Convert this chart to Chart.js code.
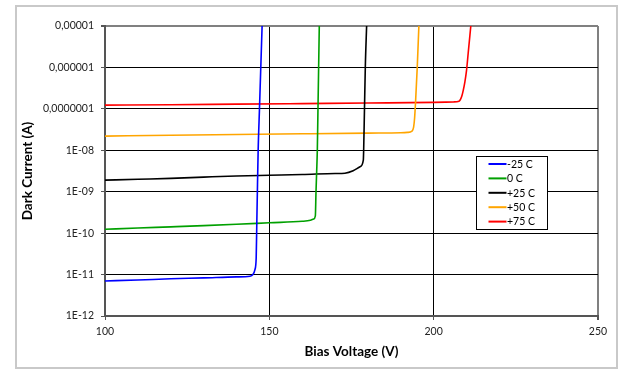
<!DOCTYPE html>
<html>
<head>
<meta charset="utf-8">
<script src="https://cdn.jsdelivr.net/npm/chart.js@4/dist/chart.umd.min.js"></script>
<style>
  html, body { margin: 0; padding: 0; background: #fff; }
  #wrap { width: 624px; height: 369px; position: relative; }
</style>
</head>
<body>
<div id="wrap"><canvas id="chart" width="624" height="369"></canvas></div>
<script>
// Dark current vs. bias voltage at five temperatures
const seriesLabels = ['-25 C', '0 C', '+25 C', '+50 C', '+75 C'];
const seriesColors = ['#0000ff', '#00a000', '#000000', '#ffa500', '#ff0000'];

const voltM25 = [100, 110, 120, 130, 140, 144.1, 145.0, 145.6, 146.0, 146.2, 146.4, 146.6, 147.0, 147.4, 147.8];
const currM25 = [7.0e-12, 7.4e-12, 7.9e-12, 8.3e-12, 8.8e-12, 9.1e-12, 1.0e-11, 1.3e-11, 2.5e-11, 2e-10, 1.5e-9, 1e-8, 1e-7, 1e-6, 1e-5];

const volt0 = [100, 110, 120, 130, 140, 150, 160, 162.5, 163.5, 164.0, 164.2, 164.4, 164.6, 164.8, 165.0, 165.2];
const curr0 = [1.24e-10, 1.33e-10, 1.42e-10, 1.52e-10, 1.64e-10, 1.78e-10, 1.93e-10, 2.05e-10, 2.2e-10, 2.6e-10, 1e-9, 3e-9, 1e-8, 1e-7, 1e-6, 1e-5];

const voltP25 = [100, 110, 120, 130, 140, 150, 160, 170, 173, 175.5, 177.6, 178.6, 178.7, 178.95, 179.2, 179.6];
const currP25 = [1.9e-9, 2.0e-9, 2.1e-9, 2.25e-9, 2.4e-9, 2.5e-9, 2.6e-9, 2.75e-9, 2.8e-9, 3.2e-9, 4.0e-9, 5.8e-9, 1e-8, 1e-7, 1e-6, 1e-5];

const voltP50 = [100, 120, 140, 160, 180, 190, 192, 193.4, 193.9, 194.2, 194.5, 195.0, 195.5];
const currP50 = [2.2e-8, 2.3e-8, 2.4e-8, 2.5e-8, 2.6e-8, 2.65e-8, 2.7e-8, 2.9e-8, 3.6e-8, 6e-8, 1.5e-7, 1e-6, 1e-5];

const voltP75 = [100, 120, 140, 160, 180, 200, 206, 207.7, 208.5, 209.0, 209.5, 210.0, 210.5, 211.3];
const currP75 = [1.23e-7, 1.26e-7, 1.3e-7, 1.34e-7, 1.38e-7, 1.43e-7, 1.47e-7, 1.52e-7, 1.95e-7, 2.8e-7, 4.5e-7, 8.5e-7, 2.2e-6, 1e-5];

const xTickValues = [100, 150, 200, 250];
const yTickValues = [1e-12, 1e-11, 1e-10, 1e-9, 1e-8, 1e-7, 1e-6, 1e-5];
const yTickLabels = ['1E-12', '1E-11', '1E-10', '1E-09', '1E-08', '0,0000001', '0,000001', '0,00001'];

const voltages = [voltM25, volt0, voltP25, voltP50, voltP75];
const currents = [currM25, curr0, currP25, currP50, currP75];

const FONT = 'Lato, "Open Sans", sans-serif';

const datasets = seriesLabels.map((label, i) => ({
  label,
  data: voltages[i].map((v, j) => ({ x: v, y: currents[i][j] })),
  borderColor: seriesColors[i],
  backgroundColor: seriesColors[i],
  borderWidth: 1.6,
  pointRadius: 0,
  cubicInterpolationMode: 'monotone',
  fill: false
}));

// light outer frame around the whole chart
const outerFrame = {
  id: 'outerFrame',
  afterDraw(chart) {
    const ctx = chart.ctx;
    ctx.save();
    ctx.strokeStyle = '#c9c9c9';
    ctx.lineWidth = 2;
    ctx.strokeRect(16, 6, 601, 362);
    ctx.restore();
  }
};

// boxed legend inside the plot area
const boxLegend = {
  id: 'boxLegend',
  afterDatasetsDraw(chart) {
    const ctx = chart.ctx;
    const ca = chart.chartArea;
    const x0 = Math.round(ca.right - 122) + 0.5;
    const y0 = Math.round(ca.top + 129.5) + 0.5;
    const w = 71, h = 73;
    ctx.save();
    ctx.fillStyle = '#ffffff';
    ctx.fillRect(x0, y0, w, h);
    ctx.strokeStyle = '#000000';
    ctx.lineWidth = 1;
    ctx.strokeRect(x0, y0, w, h);
    ctx.font = '10.5px ' + FONT;
    ctx.textBaseline = 'middle';
    ctx.textAlign = 'left';
    chart.data.datasets.forEach((ds, i) => {
      const y = y0 + 7.5 + i * 14.4;
      ctx.strokeStyle = ds.borderColor;
      ctx.lineWidth = 2;
      ctx.beginPath();
      ctx.moveTo(x0 + 12, y);
      ctx.lineTo(x0 + 30, y);
      ctx.stroke();
      ctx.fillStyle = '#000000';
      ctx.fillText(ds.label, x0 + 30.5, y + 0.5);
    });
    ctx.restore();
  }
};

new Chart(document.getElementById('chart'), {
  type: 'line',
  data: { datasets },
  plugins: [outerFrame, boxLegend],
  options: {
    responsive: false,
    animation: false,
    devicePixelRatio: 1,
    layout: { padding: { left: 16, top: 26, right: 26, bottom: 6 } },
    plugins: {
      legend: { display: false },
      tooltip: { enabled: false }
    },
    scales: {
      x: {
        type: 'linear',
        min: 100,
        max: 250,
        afterBuildTicks: s => { s.ticks = xTickValues.map(v => ({ value: v })); },
        afterFit: s => { s.height = 47; },
        ticks: { color: '#222', font: { family: FONT, size: 10.5 }, padding: 5, maxRotation: 0 },
        grid: {
          color: c => (c.tick && c.tick.value === 250 ? '#808080' : '#000000'),
          lineWidth: c => (c.tick && c.tick.value === 250 ? 2 : 1),
          tickColor: '#555',
          tickLength: 4
        },
        border: { color: '#555', width: 2 },
        title: {
          display: true,
          text: 'Bias Voltage (V)',
          color: '#000',
          font: { family: FONT, size: 13.5, weight: 'bold' },
          padding: { top: 4, bottom: 3 }
        }
      },
      y: {
        type: 'logarithmic',
        min: 1e-12,
        max: 1e-5,
        afterBuildTicks: s => { s.ticks = yTickValues.map(v => ({ value: v })); },
        afterFit: s => { s.width = 89; },
        ticks: {
          color: '#222',
          font: { family: FONT, size: 10.5 },
          padding: 7,
          callback: (v, i) => yTickLabels[i]
        },
        grid: {
          color: c => (c.index === yTickValues.length - 1 ? '#808080' : '#000000'),
          lineWidth: c => (c.index === yTickValues.length - 1 ? 2 : 1),
          tickColor: '#555',
          tickLength: 4
        },
        border: { color: '#555', width: 2 },
        title: {
          display: true,
          text: 'Dark Current (A)',
          color: '#000',
          font: { family: FONT, size: 13.5, weight: 'bold' },
          padding: { top: 4, bottom: 4 }
        }
      }
    }
  }
});
</script>
</body>
</html>
